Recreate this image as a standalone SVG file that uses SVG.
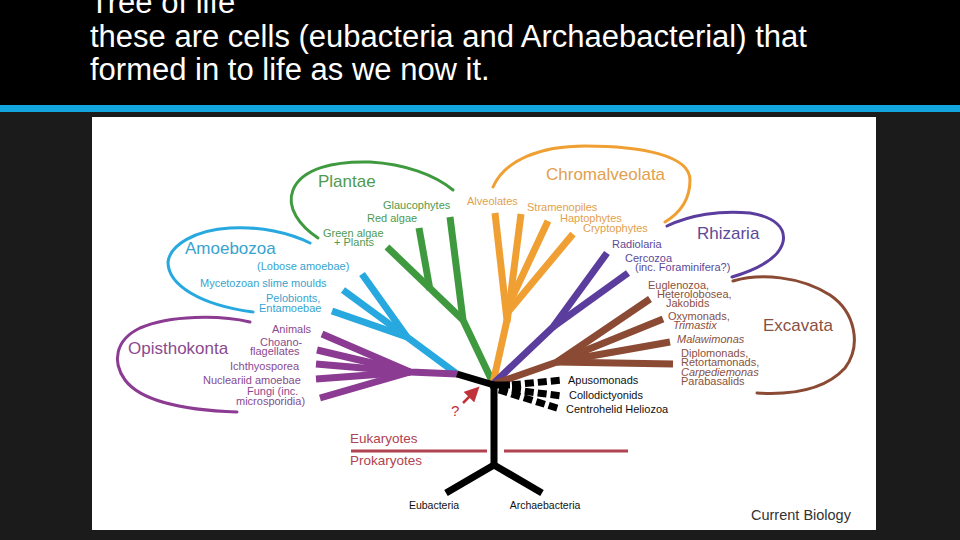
<svg xmlns="http://www.w3.org/2000/svg" width="960" height="540" viewBox="0 0 960 540">
<style>
text{font-family:"Liberation Sans",Arial,sans-serif}
.title{fill:#fff;font-size:31px}
.cl{font-size:17px}
.lb{font-size:11px}
.it{font-style:italic}
.br{fill:none;stroke-width:7;stroke-linecap:butt;stroke-linejoin:round}
.loop{fill:none;stroke-width:3;stroke-linecap:round}
.g{stroke:#3f9a3f}.gt{fill:#4f9a4f}
.o{stroke:#f0a032}.ot{fill:#e2a04e}
.r{stroke:#5a3d9c}.rt{fill:#5c4a98}
.b{stroke:#8b4a34}.bt{fill:#8a5142}
.c{stroke:#27a8df}.ct{fill:#38a3cf}
.m{stroke:#8c3b93}.mt{fill:#8a4a8f}
.k{stroke:#000}
.red{fill:#b0434f}
</style>
<defs>
<marker id="ah" markerWidth="6" markerHeight="6" refX="4" refY="3" orient="auto" markerUnits="strokeWidth">
<path d="M0,0 L6,3 L0,6 z" fill="#c0333b"/>
</marker>
</defs>
<rect x="0" y="0" width="960" height="540" fill="#1b1b1b"/>
<rect x="0" y="0" width="960" height="105" fill="#000"/>
<rect x="0" y="105" width="960" height="7" fill="#12a5de"/>
<g id="title">
<text class="title" x="90" y="13">Tree of life</text>
<text class="title" x="90" y="47">these are cells (eubacteria and Archaebacterial) that</text>
<text class="title" x="90" y="80">formed in to life as we now it.</text>
</g>
<rect x="92" y="117" width="784" height="413" fill="#fff"/>

<g id="connectors">
<!-- Plantae -->
<path class="br g" d="M493,383 L463,320 L450,217"/>
<path class="br g" d="M463,320 L387,247"/>
<path class="br g" d="M430,290 L419,228"/>
<!-- Chromalveolata -->
<path class="br o" d="M493,383 L507,320 L495,213"/>
<path class="br o" d="M507,322 L510,300 L521,214"/>
<path class="br o" d="M510,302 L548,221"/>
<path class="br o" d="M508,312 L573,234"/>
<!-- Rhizaria -->
<path class="br r" d="M494,383 L553,327 L607,253"/>
<path class="br r" d="M553,327 L628,273"/>
<!-- Excavata -->
<path class="br b" d="M494,384 L557,362 L650,299"/>
<path class="br b" d="M557,362 L663,319"/>
<path class="br b" d="M557,362 L670,342"/>
<path class="br b" d="M557,362 L673,364"/>
<!-- Amoebozoa -->
<path class="br c" d="M457,374 L407,337 L362,274"/>
<path class="br c" d="M407,337 L343,290"/>
<path class="br c" d="M407,337 L332,311"/>
<!-- Opisthokonta -->
<path class="br m" d="M457,374 L410,372 L322,334"/>
<path class="br m" d="M410,372 L317,350"/>
<path class="br m" d="M410,372 L316,364"/>
<path class="br m" d="M410,372 L316,379"/>
<path class="br m" d="M410,372 L320,398"/>
<!-- root -->
<path class="br k" d="M457,374 L494,385 L494,465"/>
<path class="br k" d="M490,385 L510,385"/>
<path class="br k" d="M446,493 L494,465 L542,493"/>
<path class="br k" d="M499,386 L563,380" stroke-width="5" stroke-dasharray="9,4"/>
<path class="br k" d="M499,388 L562,396" stroke-width="5" stroke-dasharray="9,4"/>
<path class="br k" d="M499,390 L560,409" stroke-width="5" stroke-dasharray="9,4"/>
<!-- arrow -->
<path d="M463,403 L476,390" stroke="#c0333b" stroke-width="2.5" fill="none" marker-end="url(#ah)"/>
</g>

<g id="plantae">
<path class="loop g" d="M318,238 C300,226 286,208 293,190 C302,168 335,161 370,162 C405,164 435,175 453,190"/>
<text class="cl gt" x="318" y="187">Plantae</text>
<text class="lb gt" x="383" y="209">Glaucophytes</text>
<text class="lb gt" x="367" y="222">Red algae</text>
<text class="lb gt" x="323" y="237">Green algae</text>
<text class="lb gt" x="334" y="246">+ Plants</text>
</g>
<g id="chromalveolata">
<path class="loop o" d="M493,187 C505,160 540,146 585,146 C640,146 690,155 690,180 C690,200 680,213 665,222"/>
<text class="cl ot" x="546" y="180">Chromalveolata</text>
<text class="lb ot" x="467" y="205">Alveolates</text>
<text class="lb ot" x="527" y="211">Stramenopiles</text>
<text class="lb ot" x="560" y="222">Haptophytes</text>
<text class="lb ot" x="583" y="232">Cryptophytes</text>
</g>
<g id="rhizaria">
<path class="loop r" d="M667,226 C690,215 720,210 750,213 C775,217 786,228 783,242 C779,259 755,270 732,277"/>
<text class="cl rt" x="697" y="239">Rhizaria</text>
<text class="lb rt" x="612" y="248">Radiolaria</text>
<text class="lb rt" x="625" y="262">Cercozoa</text>
<text class="lb rt" x="635" y="271">(inc. Foraminifera?)</text>
</g>
<g id="excavata">
<path class="loop b" d="M733,281 C760,273 800,276 830,295 C855,312 862,345 845,368 C825,390 790,395 757,393"/>
<text class="cl bt" x="763" y="331">Excavata</text>
<text class="lb bt" x="648" y="289">Euglenozoa,</text>
<text class="lb bt" x="657" y="298">Heterolobosea,</text>
<text class="lb bt" x="666" y="307">Jakobids</text>
<text class="lb bt" x="668" y="320">Oxymonads,</text>
<text class="lb bt it" x="673" y="329">Trimastix</text>
<text class="lb bt it" x="677" y="343">Malawimonas</text>
<text class="lb bt" x="681" y="357">Diplomonads,</text>
<text class="lb bt" x="681" y="366">Retortamonads,</text>
<text class="lb bt it" x="681" y="376">Carpediemonas</text>
<text class="lb bt" x="681" y="385">Parabasalids</text>
</g>
<g id="amoebozoa">
<path class="loop c" d="M310,243 C290,233 260,226 230,228 C195,230 170,245 168,262 C168,285 200,305 253,312"/>
<text class="cl ct" x="185" y="254">Amoebozoa</text>
<text class="lb ct" x="257" y="270">(Lobose amoebae)</text>
<text class="lb ct" x="200" y="287">Mycetozoan slime moulds</text>
<text class="lb ct" x="266" y="302">Pelobionts,</text>
<text class="lb ct" x="259" y="312">Entamoebae</text>
</g>
<g id="opisthokonta">
<path class="loop m" d="M250,322 C220,315 170,315 140,328 C115,340 112,362 125,380 C140,400 180,410 237,412"/>
<text class="cl mt" x="128" y="354">Opisthokonta</text>
<text class="lb mt" x="272" y="333">Animals</text>
<text class="lb mt" x="260" y="346">Choano-</text>
<text class="lb mt" x="250" y="355">flagellates</text>
<text class="lb mt" x="230" y="370">Ichthyosporea</text>
<text class="lb mt" x="203" y="384">Nucleariid amoebae</text>
<text class="lb mt" x="247" y="395">Fungi (inc.</text>
<text class="lb mt" x="236" y="405">microsporidia)</text>
</g>
<g id="incertae">
<text class="lb" x="568" y="384" fill="#111">Apusomonads</text>
<text class="lb" x="569" y="399" fill="#111">Collodictyonids</text>
<text class="lb" x="566" y="413" fill="#111">Centrohelid Heliozoa</text>
<text x="451" y="416" font-size="15" fill="#c0333b">?</text>
</g>
<g id="divide">
<path d="M351,451 L487,451 M504,451 L628,451" stroke="#b0434f" stroke-width="3" fill="none"/>
<text class="red" x="350" y="443" font-size="13.5">Eukaryotes</text>
<text class="red" x="350" y="465" font-size="13.5">Prokaryotes</text>
</g>
<g id="prokaryotes">
<text x="434" y="509" font-size="10.5" text-anchor="middle" fill="#111">Eubacteria</text>
<text x="545" y="509" font-size="10.5" text-anchor="middle" fill="#111">Archaebacteria</text>
</g>
<text x="751" y="520" font-size="14.5" fill="#333">Current Biology</text>
</svg>
